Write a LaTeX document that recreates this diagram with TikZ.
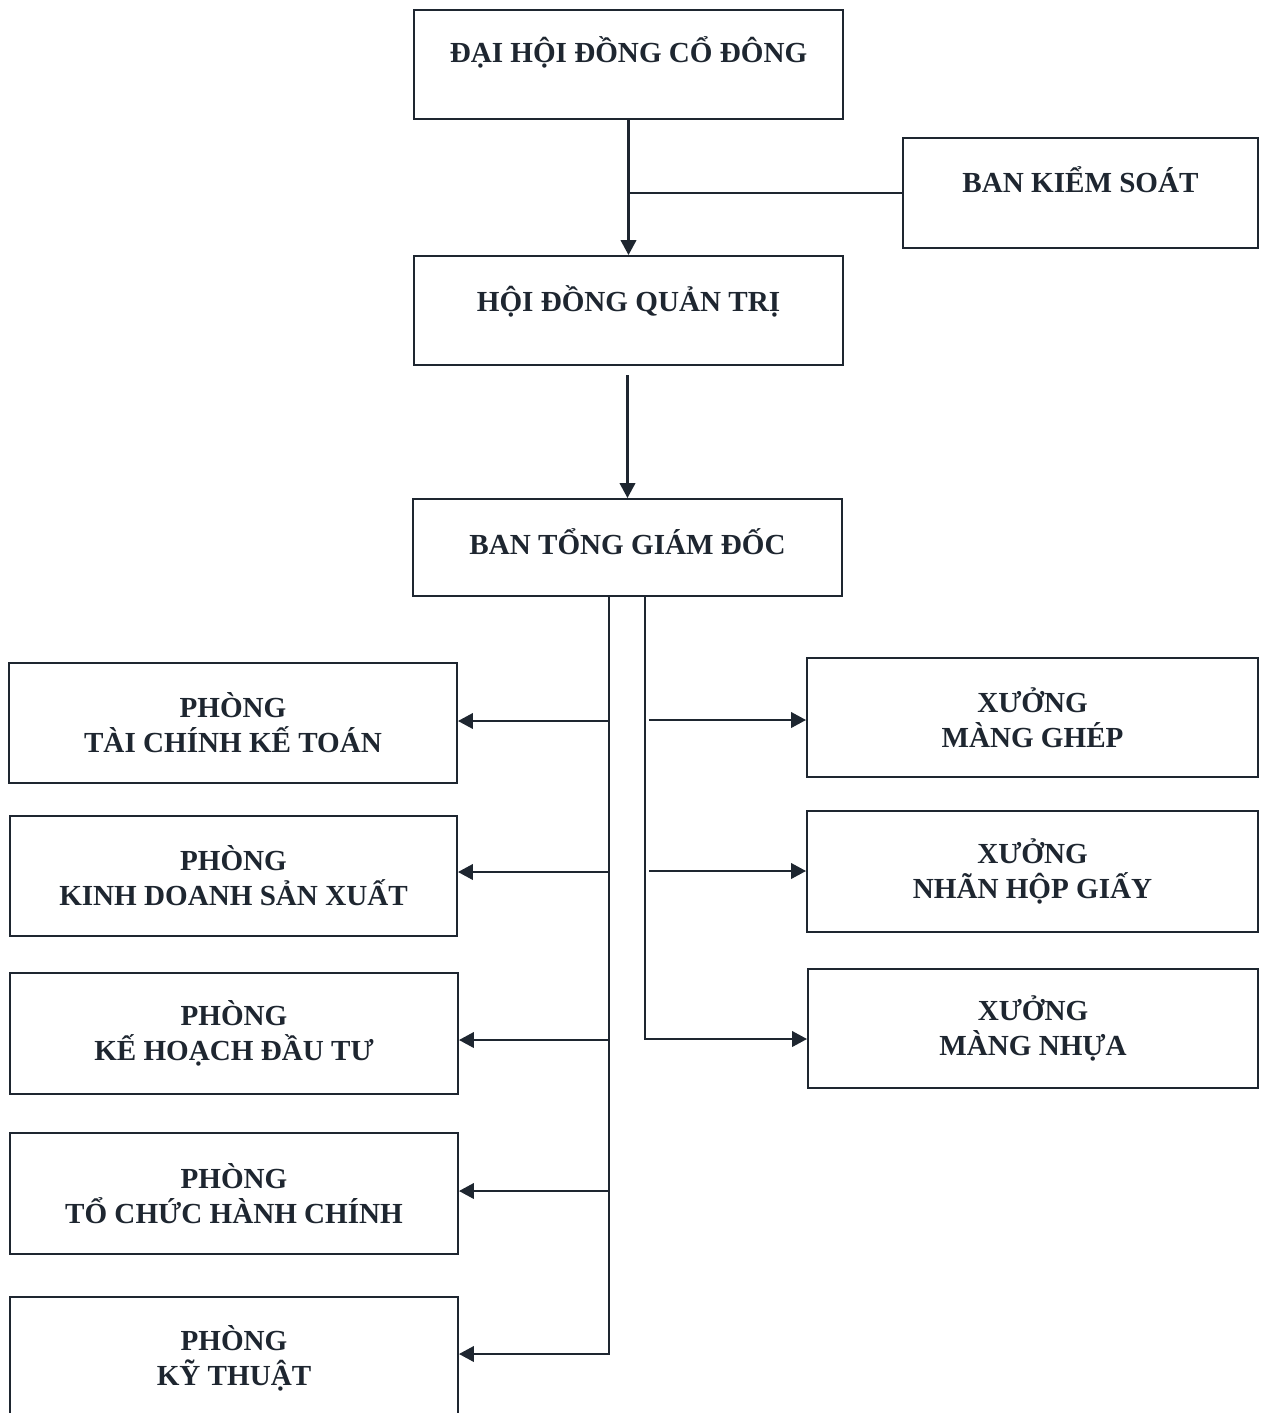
\documentclass[tikz,border=0pt]{standalone}
\usepackage{fontspec}
\setmainfont{Liberation Serif}
\usetikzlibrary{arrows.meta}
\definecolor{ink}{RGB}{30,38,48}
\begin{document}
\begin{tikzpicture}[x=0.5669pt,y=-0.5669pt,
  box/.style={draw=ink,line width=1.1pt,inner sep=0pt,align=center,text=ink,
    font=\fontsize{16.5}{19.8}\selectfont\bfseries},
  one/.style={text height=10.9pt},
  conn/.style={draw=ink,line width=1.3pt},
  arr/.style={conn,-{Triangle[length=8.5pt,width=8.8pt]}}]
\useasboundingbox[fill=white] (0,0) rectangle (1266,1413);
% top levels
\node[box,one,text depth=12.7pt,minimum width=429*0.5669pt,minimum height=109*0.5669pt] (dh) at (628.5,64.5) {ĐẠI HỘI ĐỒNG CỔ ĐÔNG};
\node[box,one,text depth=11.3pt,minimum width=355*0.5669pt,minimum height=110*0.5669pt] (bks) at (1080.5,193) {BAN KIỂM SOÁT};
\node[box,one,text depth=9.6pt,minimum width=429*0.5669pt,minimum height=109*0.5669pt] (hd) at (628.5,310.5) {HỘI ĐỒNG QUẢN TRỊ};
\node[box,one,text depth=3pt,minimum width=429*0.5669pt,minimum height=97*0.5669pt] (tgd) at (627.5,547.5) {BAN TỔNG GIÁM ĐỐC};
% left departments
\node[box,minimum width=448*0.5669pt,minimum height=120*0.5669pt] (p1) at (233,723) {PHÒNG\\TÀI CHÍNH KẾ TOÁN};
\node[box,minimum width=447*0.5669pt,minimum height=120*0.5669pt] (p2) at (233.5,876) {PHÒNG\\KINH DOANH SẢN XUẤT};
\node[box,minimum width=448*0.5669pt,minimum height=121*0.5669pt] (p3) at (234,1033.5) {PHÒNG\\KẾ HOẠCH ĐẦU TƯ};
\node[box,minimum width=448*0.5669pt,minimum height=121*0.5669pt] (p4) at (234,1193.5) {PHÒNG\\TỔ CHỨC HÀNH CHÍNH};
\node[box,minimum width=448*0.5669pt,minimum height=122*0.5669pt] (p5) at (234,1358) {PHÒNG\\KỸ THUẬT};
% right workshops
\node[box,minimum width=451*0.5669pt,minimum height=119*0.5669pt] (x1) at (1032.5,717.5) {XƯỞNG\\MÀNG GHÉP};
\node[box,minimum width=451*0.5669pt,minimum height=121*0.5669pt] (x2) at (1032.5,871.5) {XƯỞNG\\NHÃN HỘP GIẤY};
\node[box,minimum width=450*0.5669pt,minimum height=119*0.5669pt] (x3) at (1033,1028.5) {XƯỞNG\\MÀNG NHỰA};
% connectors top
\draw[arr] (dh.south) -- (hd.north);
\coordinate (jk) at (dh.south |- bks.west);
\draw[conn] (jk) -- (bks.west);
\coordinate (hs) at (627.5,375);
\draw[arr] (hs) -- (hs |- tgd.north);
% left trunk
\coordinate (tL) at (609,596);
\coordinate (bL) at (609,1354);
\draw[arr] (tL) -- (bL) -- (bL -| p5.east);
\coordinate (a1) at (609,721);
\coordinate (a2) at (609,872);
\coordinate (a3) at (609,1040);
\coordinate (a4) at (609,1191);
\draw[arr] (a1) -- (a1 -| p1.east);
\draw[arr] (a2) -- (a2 -| p2.east);
\draw[arr] (a3) -- (a3 -| p3.east);
\draw[arr] (a4) -- (a4 -| p4.east);
% right trunk
\coordinate (tR) at (645,596);
\coordinate (bR) at (645,1039);
\draw[arr] (tR) -- (bR) -- (bR -| x3.west);
\coordinate (r1) at (649,720);
\coordinate (r2) at (649,871);
\draw[arr] (r1) -- (r1 -| x1.west);
\draw[arr] (r2) -- (r2 -| x2.west);
\end{tikzpicture}
\end{document}
